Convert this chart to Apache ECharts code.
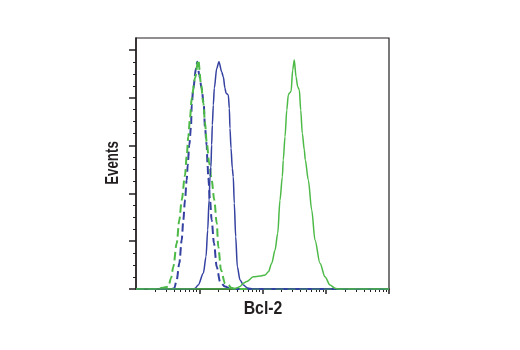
<!DOCTYPE html>
<html>
<head>
<meta charset="utf-8">
<script src="https://cdn.jsdelivr.net/npm/echarts@6/dist/echarts.min.js"></script>
<style>
  html, body { margin: 0; padding: 0; background: #fff; }
  #chart { width: 520px; height: 350px; }
</style>
</head>
<body>
<div id="chart"></div>
<script>
// histogram traces: [intensity, events]
var blueDashed = [[1,0],[3.6,0],[4.03,0.3],[4.40,3.8],[4.84,10.8],[5.28,20.5],[5.60,28.9],[5.95,37.2],[6.33,45.6],[6.57,51.9],[6.96,60.3],[7.41,67.9],[7.60,77.0],[8.05,84.0],[8.89,92.3],[9.31,95.1],[10.0,89.5],[10.9,84.0],[11.8,77.0],[12.3,67.9],[13.1,60.3],[13.5,52.5],[13.9,46.5],[14.8,37.2],[15.7,28.9],[17.1,19.1],[18.9,9.3],[21.3,3.1],[25.5,1.0],[32,0],[10000,0]];
var greenDashed = [[1,0],[2.2,0],[2.6,0.5],[3.24,1.0],[3.58,4.5],[3.89,9.3],[4.40,19.1],[4.84,28.9],[5.28,37.2],[5.95,47.5],[6.33,55.4],[6.71,63.7],[7.14,71.4],[7.60,79.8],[8.57,88.2],[9.66,95.8],[10.7,85.4],[11.6,77.7],[12.3,70.0],[13.1,61.6],[14.4,52.6],[15.7,45.6],[17.3,37.2],[18.9,27.5],[20.0,17.7],[22.1,7.9],[25.5,2.4],[28.8,1.7],[32,0.5],[38,0],[10000,0]];
var blueSolid = [[1,0],[8.3,0],[8.57,0.3],[9.66,1.7],[11.6,6.6],[12.8,13.5],[13.6,24.7],[14.3,37.2],[14.8,47.0],[15.3,51.0],[15.7,60.3],[16.1,68.6],[16.7,77.0],[17.3,84.0],[18.9,92.3],[20.5,95.1],[22.6,90.9],[24.0,88.8],[25.5,84.0],[26.5,81.9],[28.8,81.2],[29.9,75.6],[30.6,67.2],[31.8,58.9],[33.3,50.5],[34.5,47.0],[35.8,35.9],[37.7,21.9],[40.0,9.3],[44.1,3.8],[49.7,1.7],[58,0.4],[70,0],[10000,0]];
var greenSolid = [[1,0],[34,0],[40,0.5],[44.1,1.0],[49.7,2.4],[56.3,3.1],[71.6,5.1],[91.3,5.4],[110,5.9],[124,7.2],[140,10.8],[158,16.3],[174,23.3],[189,37.2],[206,47.0],[213,54.0],[227,63.7],[242,74.9],[256,81.2],[266,81.9],[283,82.6],[300,91.6],[318,95.8],[339,88.8],[360,84.6],[382,83.3],[402,74.9],[426,65.1],[458,58.2],[475,54.0],[530,45.6],[600,33.1],[676,20.5],[811,10.8],[973,5.1],[1167,1.7],[1400,0.3],[1600,0],[10000,0]];

var xMajorTicks = [10, 100, 1000, 10000];
var xMinorTicks = [2,3,4,5,6,7,8,9, 20,30,40,50,60,70,80,90, 200,300,400,500,600,700,800,900, 2000,3000,4000,5000,6000,7000,8000,9000];
var yMajorTicks = [0, 20, 40, 60, 80, 100];
var yMinorTicks = [5,10,15, 25,30,35, 45,50,55, 65,70,75, 85,90,95];

var ink = '#231f20';
var blue = '#3441a0';
var green = '#4dba48';
var font = '"Liberation Sans", Arial, sans-serif';

var myChart = echarts.init(document.getElementById('chart'));

function line(name, data, color, dashed, width) {
    return {
        name: name,
        type: 'line',
        data: data,
        showSymbol: false,
        smooth: 0.3,
        smoothMonotone: 'x',
        animation: false,
        lineStyle: { color: color, width: width, type: dashed ? [8, 4] : 'solid' }
    };
}

var option = {
    animation: false,
    grid: {
        left: 136, right: 131, top: 38, bottom: 61,
        show: true, borderColor: ink, borderWidth: 1.2
    },
    // axis titles, condensed to look like the original's narrow bold face
    graphic: [
        {
            type: 'text', x: 263, y: 309, scaleX: 0.88,
            style: { text: 'Bcl-2', fill: ink, font: 'bold 18px ' + font, textAlign: 'center', textVerticalAlign: 'middle' }
        },
        {
            type: 'text', x: 113, y: 163, rotation: Math.PI / 2, scaleX: 0.74,
            style: { text: 'Events', fill: ink, font: 'bold 18px ' + font, textAlign: 'center', textVerticalAlign: 'middle' }
        }
    ],
    xAxis: [
        {
            type: 'log', min: 1, max: 10000, logBase: 10,
            axisLine: { lineStyle: { color: ink, width: 1.5 } },
            axisTick: { show: true, length: 5, lineStyle: { color: ink, width: 1.5 }, customValues: xMajorTicks },
            axisLabel: { show: false },
            splitLine: { show: false }
        },
        {
            type: 'log', min: 1, max: 10000, logBase: 10, position: 'bottom',
            axisLine: { show: false },
            axisTick: { show: true, length: 3, lineStyle: { color: ink, width: 1 }, customValues: xMinorTicks },
            axisLabel: { show: false },
            splitLine: { show: false }
        }
    ],
    yAxis: [
        {
            type: 'value', min: 0, max: 105,
            axisLine: { show: true, lineStyle: { color: ink, width: 1.5 } },
            axisTick: { show: true, length: 7, lineStyle: { color: ink, width: 1.5 }, customValues: yMajorTicks },
            axisLabel: { show: false },
            splitLine: { show: false }
        },
        {
            type: 'value', min: 0, max: 105, position: 'left',
            axisLine: { show: false },
            axisTick: { show: true, length: 3, lineStyle: { color: ink, width: 1 }, customValues: yMinorTicks },
            axisLabel: { show: false },
            splitLine: { show: false }
        }
    ],
    series: [
        line('isotype 1', blueDashed, blue, true, 2),
        line('isotype 2', greenDashed, green, true, 2),
        line('cells 1', blueSolid, blue, false, 1.5),
        line('cells 2', greenSolid, green, false, 1.5)
    ]
};

myChart.setOption(option);
</script>
</body>
</html>
